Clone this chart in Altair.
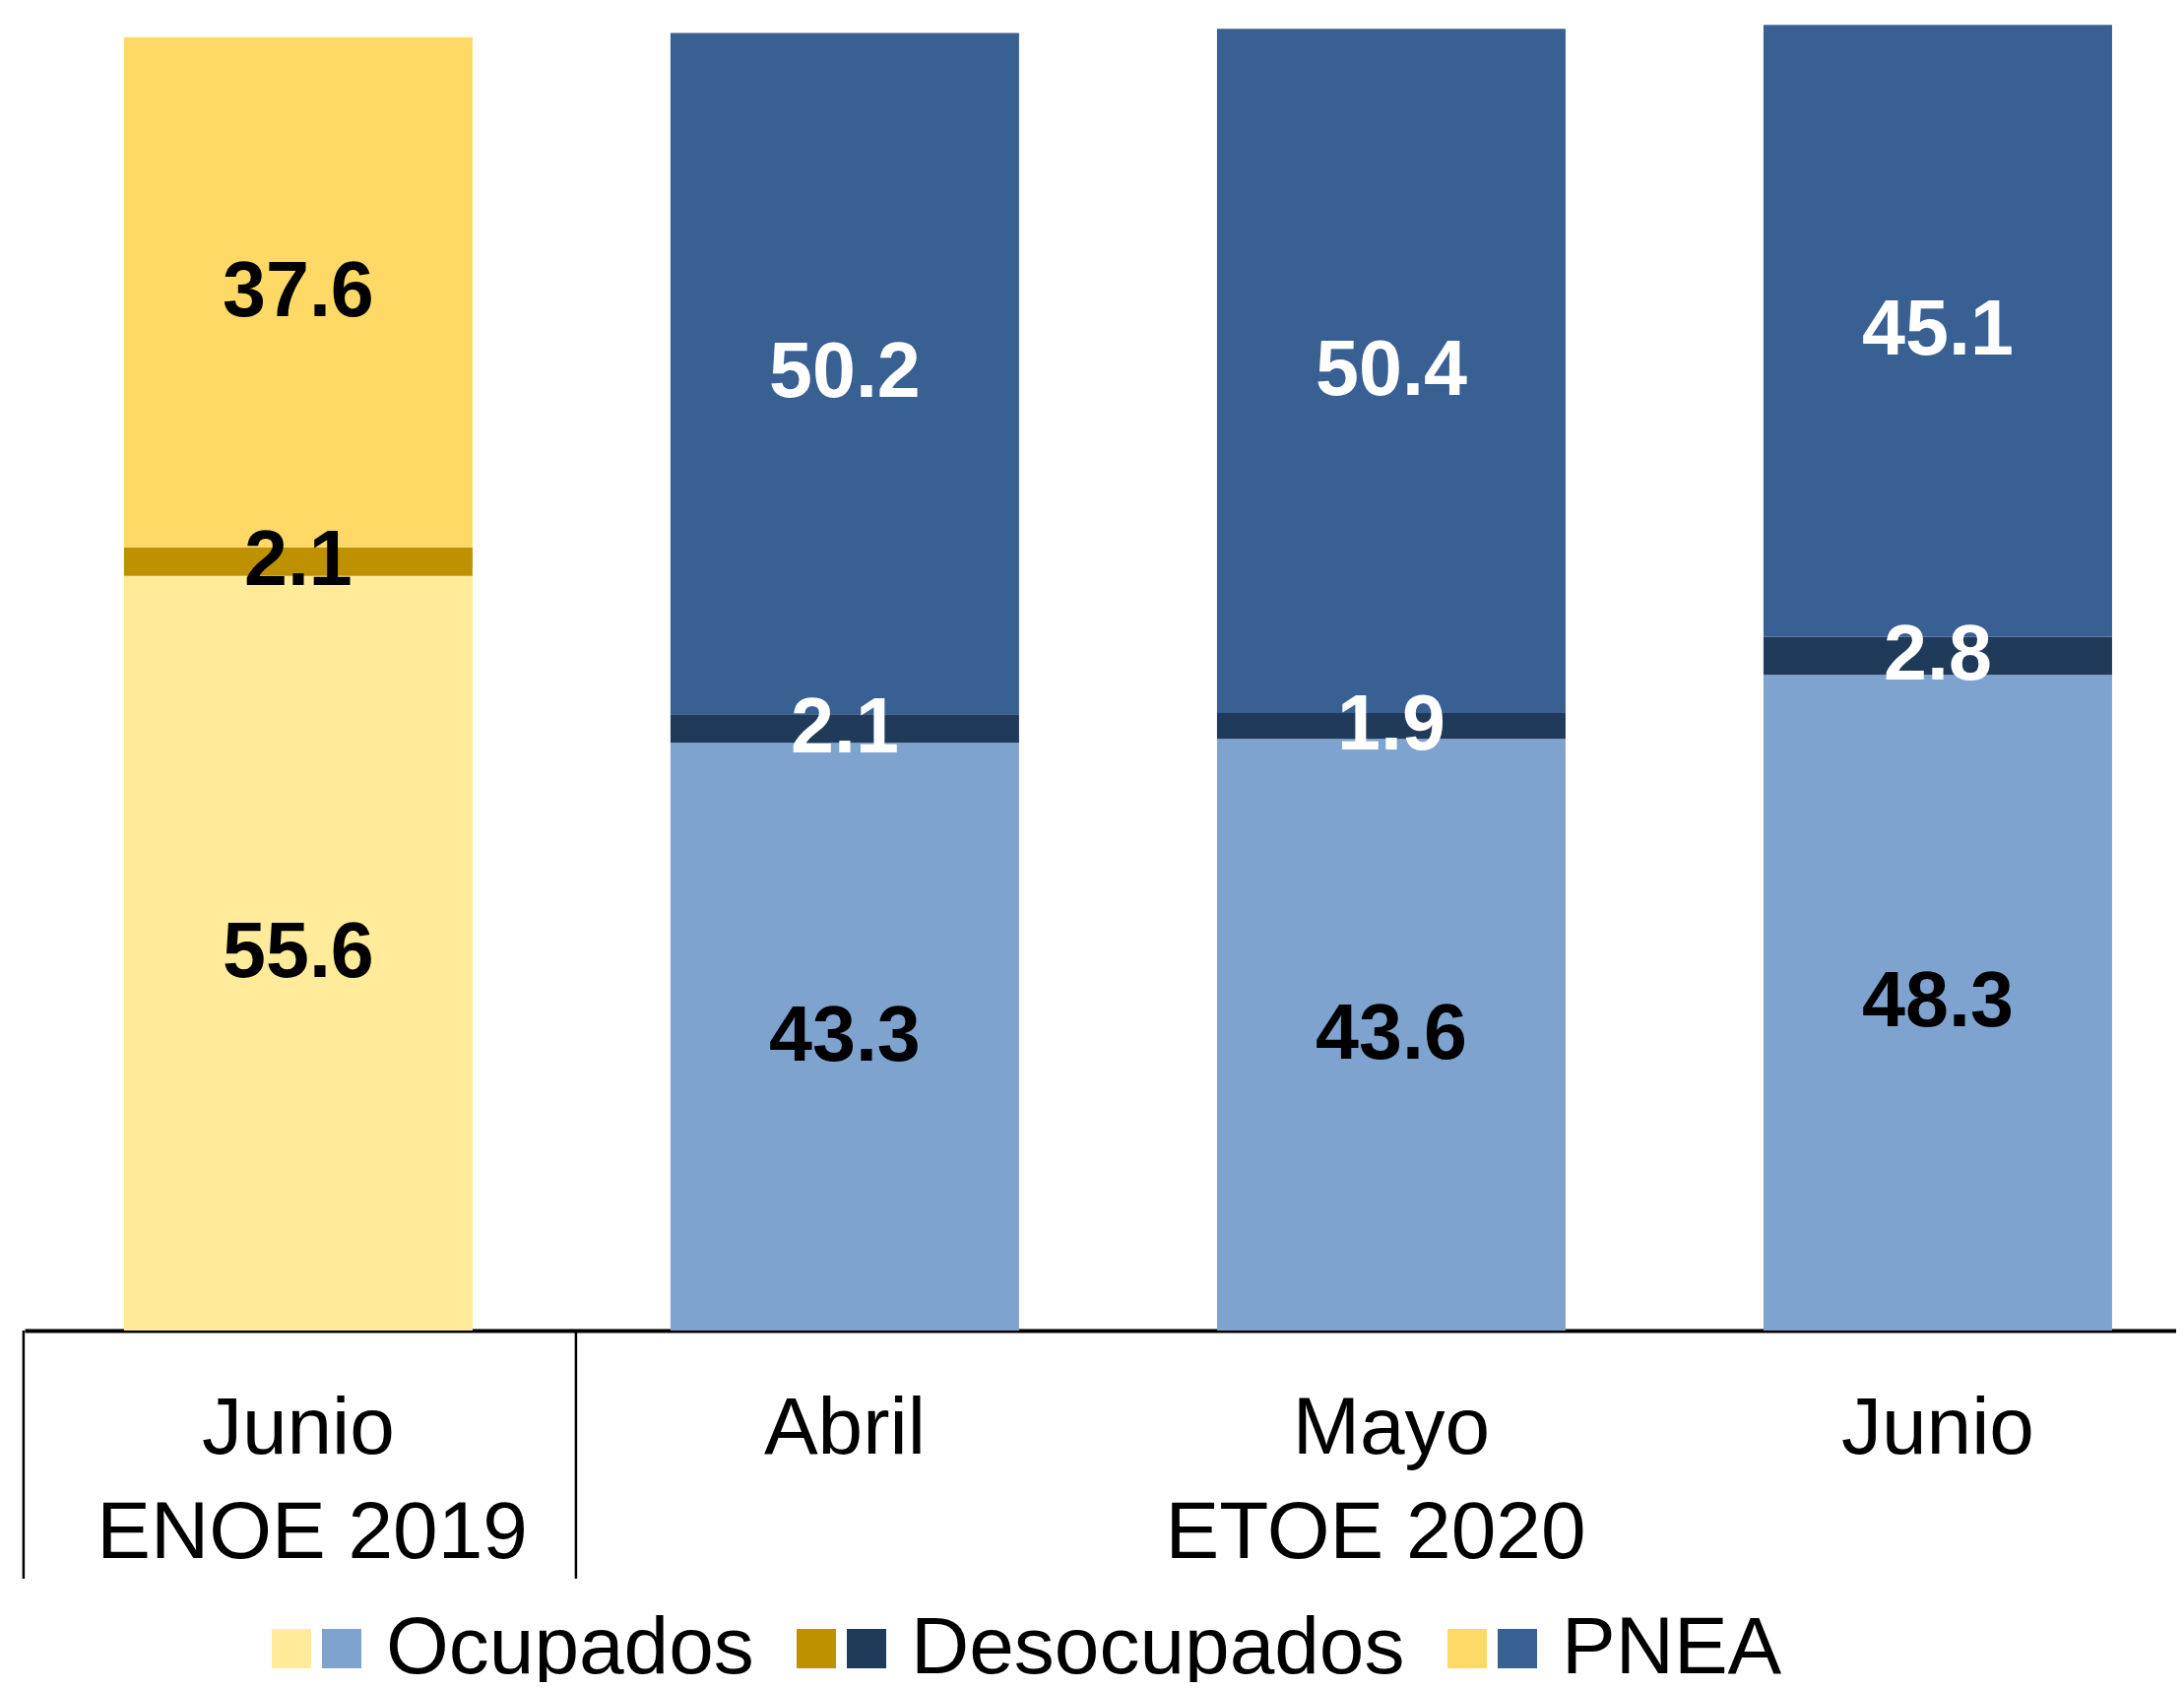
import altair as alt
import pandas as pd

# ---- data ----
categories = ["Junio|2019", "Abril|2020", "Mayo|2020", "Junio|2020"]
survey = ["2019", "2020", "2020", "2020"]
series = ["Ocupados", "Desocupados", "PNEA"]
ocupados = [55.6, 43.3, 43.6, 48.3]
desocupados = [2.1, 2.1, 1.9, 2.8]
pnea = [37.6, 50.2, 50.4, 45.1]
group_labels = ["ENOE 2019", "ETOE 2020"]

colors_2019 = ["#FFEB99", "#BF9000", "#FFD966"]
colors_2020 = ["#7FA3CF", "#203A5A", "#386092"]
text_2019 = ["black", "black", "black"]
text_2020 = ["black", "white", "white"]

rows = []
for i, cat in enumerate(categories):
    vals = [ocupados[i], desocupados[i], pnea[i]]
    tcols = text_2019 if survey[i] == "2019" else text_2020
    for j, s in enumerate(series):
        rows.append({"cat": cat, "survey": survey[i], "serie": s, "orden": j,
                     "valor": vals[j], "tcolor": tcols[j]})
df = pd.DataFrame(rows)

W, H = 2185, 1343
FONT = "Liberation Sans"

xscale = alt.Scale(domain=categories, paddingInner=0.3622, paddingOuter=0.1495, align=0.608)
xaxis = alt.Axis(title=None, labelExpr="split(datum.value, '|')[0]", labelFont=FONT,
                 labelFontSize=82, labelColor="black", labelBaseline="alphabetic",
                 labelPadding=124, labelLimit=1000, ticks=False, tickSize=0,
                 domainColor="black", domainWidth=4, labelAngle=0)
X = alt.X("cat:N", scale=xscale, axis=xaxis, sort=categories)
yscale = alt.Scale(domain=[0, 97.45], nice=False, zero=True)

base = alt.Chart(df).transform_stack(
    stack="valor", groupby=["cat"], as_=["y0", "y1"],
    sort=[alt.SortField("orden", order="ascending")]
).transform_calculate(mid="(datum.y0 + datum.y1) / 2")

legend_common = dict(orient="none", direction="horizontal", title=None,
                     symbolType="square", symbolSize=1600, symbolStrokeWidth=0,
                     labelFont=FONT, labelFontSize=82, labelColor="black",
                     labelOffset=4, columnPadding=73, labelLimit=1000, padding=0,
                     legendY=1625)

bars19 = base.transform_filter(alt.datum.survey == "2019").mark_bar(size=354).encode(
    x=X,
    y=alt.Y("y0:Q", scale=yscale, axis=None),
    y2="y1:Q",
    color=alt.Color("serie:N", scale=alt.Scale(domain=series, range=colors_2019),
                    legend=alt.Legend(legendX=230, labelOpacity=0, **legend_common)),
)

bars20 = base.transform_filter(alt.datum.survey == "2020").mark_bar(size=354).encode(
    x=X,
    y=alt.Y("y0:Q", scale=yscale, axis=None),
    y2="y1:Q",
    color=alt.Color("serie:N", scale=alt.Scale(domain=series, range=colors_2020),
                    legend=alt.Legend(legendX=281, **legend_common)),
)

labels = base.mark_text(font=FONT, fontSize=79, fontWeight="bold", baseline="middle",
                        align="center").encode(
    x=X,
    y=alt.Y("mid:Q", scale=yscale, axis=None),
    text=alt.Text("valor:Q", format=".1f"),
    fill=alt.Fill("tcolor:N", scale=None, legend=None),
)

def sep(cat, off):
    d = pd.DataFrame({"cat": [cat]})
    return alt.Chart(d).mark_rule(color="black", strokeWidth=2.5, xOffset=off).encode(
        x=alt.X("cat:N", scale=xscale, axis=xaxis, sort=categories, bandPosition=0),
        y=alt.value(H), y2=alt.value(H + 252))

def glabel(cat, text, band):
    d = pd.DataFrame({"cat": [cat], "txt": [text]})
    return alt.Chart(d).mark_text(font=FONT, fontSize=82, baseline="alphabetic",
                                  align="center", color="black").encode(
        x=alt.X("cat:N", scale=xscale, axis=xaxis, sort=categories, bandPosition=band),
        y=alt.value(H + 231), text="txt:N")

chart = alt.layer(
    bars19, bars20, labels,
    sep(categories[0], -102), sep(categories[1], -96),
    glabel(categories[0], group_labels[0], 0.54),
    glabel(categories[2], group_labels[1], 0.455),
).resolve_scale(color="independent").resolve_legend(color="independent").properties(
    width=W, height=H,
    autosize=alt.AutoSizeParams(type="none"),
    padding={"left": 17, "top": 0, "right": 0, "bottom": 357},
    background="white",
).configure_view(stroke=None)

chart.save("out.html", embed_options={"renderer": "svg", "actions": False})
